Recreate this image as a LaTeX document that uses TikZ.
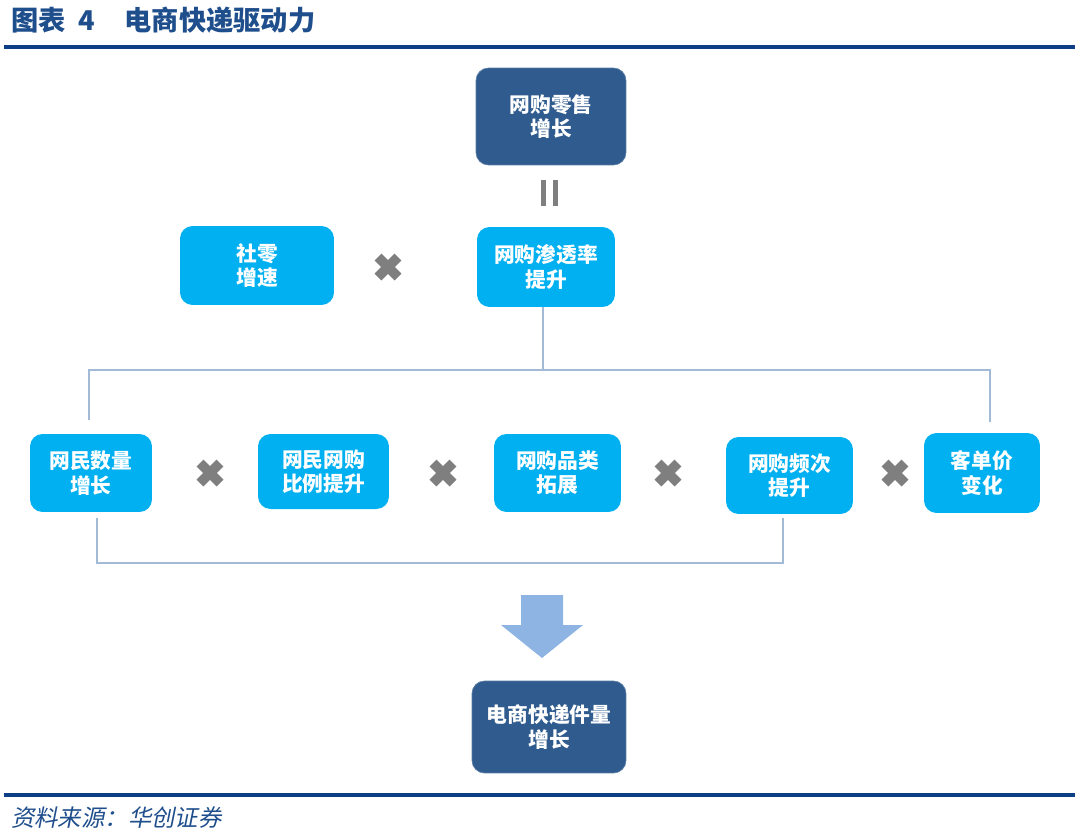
\documentclass[tikz,border=0pt]{standalone}
\usepackage{fontspec}
\setmainfont{Noto Sans CJK SC}
\newfontfamily\srcfont[FakeSlant=0.2]{Noto Sans CJK SC}
\definecolor{dkbox}{HTML}{2F5B8E}
\definecolor{ltbox}{HTML}{00B0F0}
\definecolor{rule}{HTML}{0D3F87}
\definecolor{ttl}{HTML}{1F4E8C}
\definecolor{conn}{HTML}{A3BAD6}
\definecolor{xgrey}{HTML}{7F7F7F}
\definecolor{arrowc}{HTML}{8EB4E3}
\tikzset{
  boxbase/.style={rounded corners=0.25cm, text=white, align=center, inner sep=0pt,
    font=\fontsize{11.8}{13.8}\selectfont\bfseries},
  dkstyle/.style={boxbase, fill=dkbox, draw=dkbox!80!white},
  ltstyle/.style={boxbase, fill=ltbox},
  connline/.style={draw=conn, line width=1.2pt},
  rulestyle/.style={draw=rule, line width=2.2pt},
  xmark/.style={draw=xgrey, line width=5.5pt},
}
\newcommand{\timesmark}[2]{%
  \coordinate (#1) at #2;
  \draw[xmark] ($(#1)+(-10,-10)$) -- ($(#1)+(10,10)$);
  \draw[xmark] ($(#1)+(-10,10)$) -- ($(#1)+(10,-10)$);}
\usetikzlibrary{calc}
\begin{document}
\begin{tikzpicture}[x=0.02cm,y=-0.02cm]
\useasboundingbox (0,0) rectangle (1080,836);
% title and rules
\node[anchor=west, text=ttl, font=\fontsize{15.5}{17}\selectfont\bfseries] (title) at (5,20) {图表\ \ 4\hspace{1.1em}电商快递驱动力};
\coordinate (r1a) at (4,47); \coordinate (r1b) at (1075,47);
\draw[rulestyle] (r1a) -- (r1b);
\coordinate (r2a) at (4,795); \coordinate (r2b) at (1075,795);
\draw[rulestyle] (r2a) -- (r2b);
\node[anchor=west, text=ttl, font=\fontsize{13.3}{15}\selectfont\srcfont] (src) at (5,818) {资料来源：华创证券};
% boxes
\node[dkstyle, minimum width=3cm, minimum height=1.94cm] (top) at (551,116.5) {网购零售\\增长};
\node[ltstyle, minimum width=3.08cm, minimum height=1.58cm] (sl) at (257,265.5) {社零\\增速};
\node[ltstyle, minimum width=2.76cm, minimum height=1.6cm] (st) at (546,267) {网购渗透率\\提升};
\node[ltstyle, minimum width=2.44cm, minimum height=1.56cm] (b1) at (91,473) {网民数量\\增长};
\node[ltstyle, minimum width=2.62cm, minimum height=1.5cm] (b2) at (323.5,471.5) {网民网购\\比例提升};
\node[ltstyle, minimum width=2.54cm, minimum height=1.56cm] (b3) at (557.5,473) {网购品类\\拓展};
\node[ltstyle, minimum width=2.54cm, minimum height=1.54cm] (b4) at (789.5,475.5) {网购频次\\提升};
\node[ltstyle, minimum width=2.32cm, minimum height=1.6cm] (b5) at (982,473) {客单价\\变化};
\node[dkstyle, minimum width=3.08cm, minimum height=1.84cm] (fin) at (549,727) {电商快递件量\\增长};
% equals (two vertical bars)
\coordinate (eq) at (549.5,193);
\fill[xgrey] ($(eq)+(-8.5,-13)$) rectangle ($(eq)+(-3.5,13)$);
\fill[xgrey] ($(eq)+(3.5,-13)$) rectangle ($(eq)+(8.5,13)$);
% multiplication marks
\timesmark{x0}{(388,267)}
\timesmark{x1}{(210,473)}
\timesmark{x2}{(443,473)}
\timesmark{x3}{(668,473)}
\timesmark{x4}{(895,473)}
% upper bracket
\coordinate (hm) at (543,370);
\coordinate (hl) at (89,370);
\coordinate (hr) at (990,370);
\coordinate (hld) at (89,420);
\coordinate (hrd) at (990,422);
\draw[connline] (st.south -| hm) -- (hm);
\draw[connline] (hld) -- (hl) -- (hr) -- (hrd);
% lower bracket
\coordinate (lb1) at (97,518);
\coordinate (lb2) at (97,563);
\coordinate (lb3) at (783,563);
\coordinate (lb4) at (783,518);
\draw[connline] (lb1) -- (lb2) -- (lb3) -- (lb4);
% big down arrow
\coordinate (ar) at (542,595);
\fill[arrowc] ($(ar)+(-21,0)$) -- ($(ar)+(21,0)$) -- ($(ar)+(21,30)$) -- ($(ar)+(41,30)$)
  -- ($(ar)+(0,63)$) -- ($(ar)+(-41,30)$) -- ($(ar)+(-21,30)$) -- cycle;
\end{tikzpicture}
\end{document}
